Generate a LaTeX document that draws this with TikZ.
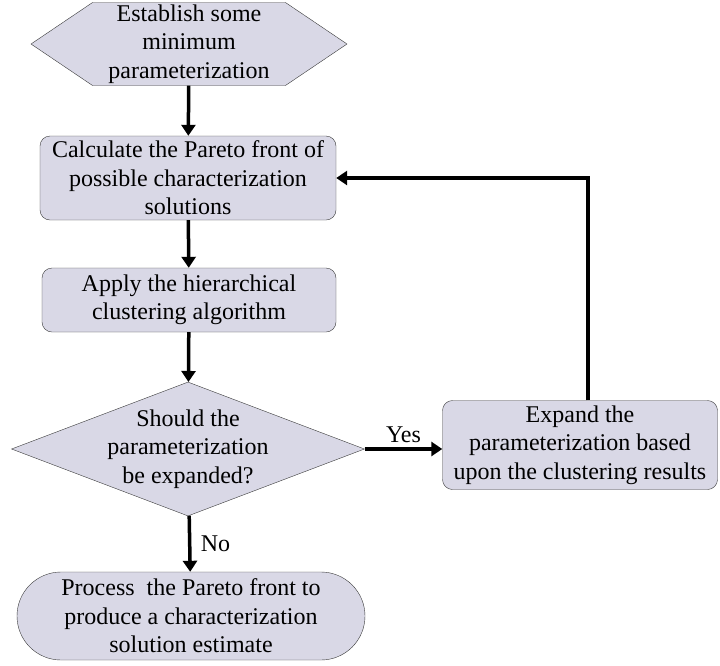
\documentclass[tikz,border=0pt]{standalone}
\usepackage{fontspec}
\setmainfont{Liberation Serif}
\usetikzlibrary{arrows.meta,shapes.geometric,shapes.symbols,shapes.misc}
\definecolor{stepfill}{HTML}{D9D8E6}
\definecolor{stepline}{HTML}{3A3A3A}
\tikzset{
  block/.style={draw=stepline,fill=stepfill,align=center,inner sep=2pt,
    font=\fontsize{24}{28.5}\selectfont},
  flow/.style={line width=3.5pt,-{Triangle[length=11pt,width=14pt]}},
  lbl/.style={font=\fontsize{24}{28.5}\selectfont},
}
\begin{document}
\begin{tikzpicture}[x=1pt,y=-1pt]
  \useasboundingbox (0,0) rectangle (720,665);
  % steps
  \node[block,signal,signal to=west and east,signal pointer angle=68,
    minimum width=316pt,minimum height=83pt,inner sep=0pt] (start) at (189,44)
    {Establish some\\minimum\\parameterization};
  \node[block,rounded corners=10pt,minimum width=296pt,minimum height=84pt] (calc) at (188,178)
    {Calculate the Pareto front of\\possible characterization\\solutions};
  \node[block,rounded corners=10pt,minimum width=294pt,minimum height=64pt] (apply) at (189,300)
    {Apply the hierarchical\\clustering algorithm};
  \node[block,diamond,aspect=2.63,inner sep=-4pt,minimum width=353pt,minimum height=134pt] (decide) at (188,449)
    {Should the\\parameterization\\be expanded?};
  \node[block,rounded corners=10pt,minimum width=275pt,minimum height=89pt] (expand) at (580,445)
    {Expand the\\parameterization based\\upon the clustering results};
  \node[block,rounded rectangle,minimum width=352pt,minimum height=88pt] (finish) at (191,616)
    {Process\ \ the Pareto front to\\produce a characterization\\solution estimate};
  % connectors
  \draw[flow] (start) -- (calc);
  \draw[flow] (calc) -- (apply);
  \draw[flow] (apply) -- (decide);
  \draw[flow] (decide.east) -- node[lbl,above=1pt] {Yes} (decide.east -| expand.west);
  \draw[flow] (decide) -- node[lbl,right=6pt] {No} (finish);
  \draw[flow] ([xshift=8pt]expand.north) |- (calc);
\end{tikzpicture}
\end{document}
